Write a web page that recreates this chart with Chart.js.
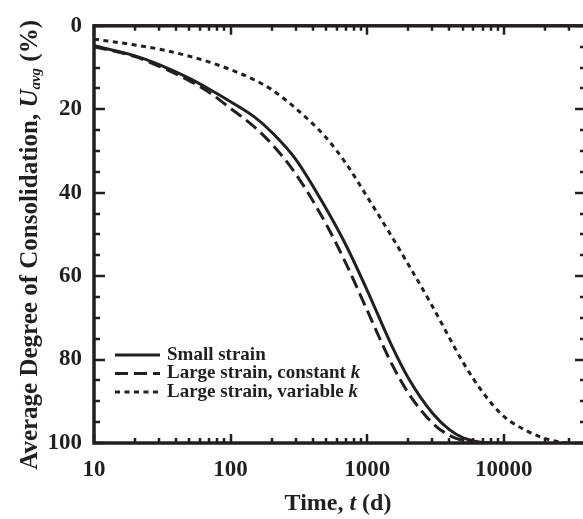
<!DOCTYPE html>
<html><head><meta charset="utf-8">
<script src="https://cdn.jsdelivr.net/npm/chart.js@4/dist/chart.umd.min.js"></script>
<style>html,body{margin:0;padding:0;background:#fff;overflow:hidden;}#wrap{width:583px;height:519px;overflow:hidden;}</style>
</head><body><div id="wrap"><canvas id="c" width="588" height="519"></canvas></div>
<script>
// ---- data ----
const timeAB = [10, 20, 30, 50, 70, 100, 150, 200, 300, 500, 700, 1000, 1500, 2000, 3000, 4000, 5000, 6000, 7000, 8000];
const smallStrain = [4.8, 7.2, 9.3, 12.6, 15.2, 18.2, 21.9, 25.5, 32.0, 43.8, 52.6, 63.4, 76.4, 84.4, 92.8, 96.8, 98.7, 99.5, 99.85, 100];
const largeConstK = [5.0, 7.4, 9.7, 13.2, 16.0, 19.8, 24.3, 28.3, 35.5, 47.5, 57.0, 68.2, 80.8, 88.0, 95.2, 98.2, 99.4, 99.9, 100, 100];
const timeC = [10, 20, 30, 50, 70, 100, 150, 200, 300, 500, 700, 1000, 1500, 2000, 3000, 4000, 5000, 7000, 10000, 15000, 20000, 25000, 30000];
const largeVarK = [3.2, 4.6, 5.6, 7.3, 8.7, 10.5, 13.0, 15.3, 19.8, 26.8, 33.0, 41.0, 50.3, 57.2, 67.2, 74.8, 80.5, 87.8, 93.6, 97.2, 98.9, 99.7, 100];
const seriesNames = ['Small strain', 'Large strain, constant ', 'Large strain, variable '];
const xTickValues = [10, 100, 1000, 10000];
const yTickValues = [0, 20, 40, 60, 80, 100];
const xTitle = ['Time, ', 't', ' (d)'];
const yTitle = ['Average Degree of Consolidation, ', 'U', 'avg', ' (%)'];

const INK = '#231f20';
const SERIF = "'Liberation Serif', 'Times New Roman', serif";
const pts = (xs, ys) => xs.map((x, i) => ({x: x, y: ys[i]}));
const styles = [[], [13, 6], [5, 4.5]];

const framePlugin = {
  id: 'frame',
  afterDraw(chart) {
    const ctx = chart.ctx, a = chart.chartArea;
    const xs = chart.scales.x, ys = chart.scales.y;
    ctx.save();
    ctx.strokeStyle = INK; ctx.fillStyle = INK;
    // ticks
    ctx.lineWidth = 2.5;
    for (let d = 10; d <= 100000; d *= 10) {
      for (let m = 1; m <= 9; m++) {
        const v = m * d;
        if (v < xs.min || v > xs.max) continue;
        const px = Math.round(xs.getPixelForValue(v));
        const len = m === 1 ? 9 : 5;
        ctx.beginPath();
        ctx.moveTo(px, a.bottom); ctx.lineTo(px, a.bottom - len);
        ctx.moveTo(px, a.top); ctx.lineTo(px, a.top + len);
        ctx.stroke();
      }
    }
    for (let v = 0; v <= 100; v += 5) {
      const py = Math.round(ys.getPixelForValue(v));
      const len = v % 20 === 0 ? 11 : 6;
      ctx.beginPath();
      ctx.moveTo(a.left, py); ctx.lineTo(a.left + len, py);
      ctx.moveTo(a.right, py); ctx.lineTo(a.right - len, py);
      ctx.stroke();
    }
    // frame
    ctx.lineWidth = 3.5;
    ctx.strokeRect(a.left, a.top, a.right - a.left, a.bottom - a.top);

    // legend
    const lx0 = 115, lx1 = 160, tx = 167, rows = [355, 373.5, 392];
    ctx.textBaseline = 'middle'; ctx.textAlign = 'left';
    chart.data.datasets.forEach((ds, i) => {
      ctx.lineWidth = 3;
      ctx.setLineDash(styles[i]);
      ctx.beginPath(); ctx.moveTo(lx0, rows[i]); ctx.lineTo(lx1, rows[i]); ctx.stroke();
      ctx.setLineDash([]);
      ctx.font = 'bold 19px ' + SERIF;
      ctx.fillText(seriesNames[i], tx, rows[i]);
      if (i > 0) {
        const w = ctx.measureText(seriesNames[i]).width;
        ctx.font = 'italic bold 19px ' + SERIF;
        ctx.fillText('k', tx + w, rows[i]);
      }
    });

    // x title
    const fN = 'bold 24px ' + SERIF, fI = 'italic bold 24px ' + SERIF;
    ctx.font = fN; const w0 = ctx.measureText(xTitle[0]).width, w2 = ctx.measureText(xTitle[2]).width;
    ctx.font = fI; const w1 = ctx.measureText(xTitle[1]).width;
    let x = 338 - (w0 + w1 + w2) / 2;
    const ty = 504;
    ctx.font = fN; ctx.fillText(xTitle[0], x, ty); x += w0;
    ctx.font = fI; ctx.fillText(xTitle[1], x, ty); x += w1;
    ctx.font = fN; ctx.fillText(xTitle[2], x, ty);

    // y title (rotated), ends near the top of the plot
    ctx.textBaseline = 'alphabetic';
    const yN = 'bold 25px ' + SERIF, yI = 'italic bold 25px ' + SERIF, yS = 'italic bold 15px ' + SERIF;
    ctx.font = yN; const v0 = ctx.measureText(yTitle[0]).width, v3 = ctx.measureText(yTitle[3]).width;
    ctx.font = yI; const v1 = ctx.measureText(yTitle[1]).width;
    ctx.font = yS; const v2 = ctx.measureText(yTitle[2]).width;
    const W = v0 + v1 + v2 + v3;
    ctx.translate(37, 0); ctx.rotate(-Math.PI / 2);
    let p = -(20 + W);
    ctx.font = yN; ctx.fillText(yTitle[0], p, 0); p += v0;
    ctx.font = yI; ctx.fillText(yTitle[1], p, 0); p += v1;
    ctx.font = yS; ctx.fillText(yTitle[2], p, 3); p += v2;
    ctx.font = yN; ctx.fillText(yTitle[3], p, 0);
    ctx.restore();
  }
};

const common = {borderColor: INK, backgroundColor: INK, borderWidth: 3, pointRadius: 0, fill: false, cubicInterpolationMode: 'monotone', borderCapStyle: 'butt'};
new Chart(document.getElementById('c'), {
  type: 'line',
  data: {
    datasets: [
      Object.assign({label: seriesNames[0], data: pts(timeAB, smallStrain), borderDash: styles[0]}, common),
      Object.assign({label: seriesNames[1] + 'k', data: pts(timeAB, largeConstK), borderDash: styles[1]}, common),
      Object.assign({label: seriesNames[2] + 'k', data: pts(timeC, largeVarK), borderDash: styles[2]}, common)
    ]
  },
  options: {
    responsive: false, animation: false, devicePixelRatio: 1,
    layout: {padding: {top: 23, right: 2, left: 0, bottom: 0}},
    plugins: {legend: {display: false}, tooltip: {enabled: false}},
    scales: {
      x: {
        type: 'logarithmic', min: 10, max: 40000,
        grid: {display: false, drawTicks: false}, border: {display: false},
        afterBuildTicks: s => { s.ticks = xTickValues.map(v => ({value: v, major: true})); },
        afterFit: s => { s.height = 76; },
        ticks: {color: INK, font: {family: SERIF, size: 23, weight: 'bold'}, padding: 13, maxRotation: 0, autoSkip: false,
          callback: v => String(v)}
      },
      y: {
        type: 'linear', reverse: true, min: 0, max: 100,
        grid: {display: false, drawTicks: false}, border: {display: false},
        afterBuildTicks: s => { s.ticks = yTickValues.map(v => ({value: v})); },
        afterFit: s => { s.width = 94; },
        ticks: {color: INK, font: {family: SERIF, size: 23, weight: 'bold'}, padding: 12}
      }
    }
  },
  plugins: [framePlugin]
});
</script></body></html>
